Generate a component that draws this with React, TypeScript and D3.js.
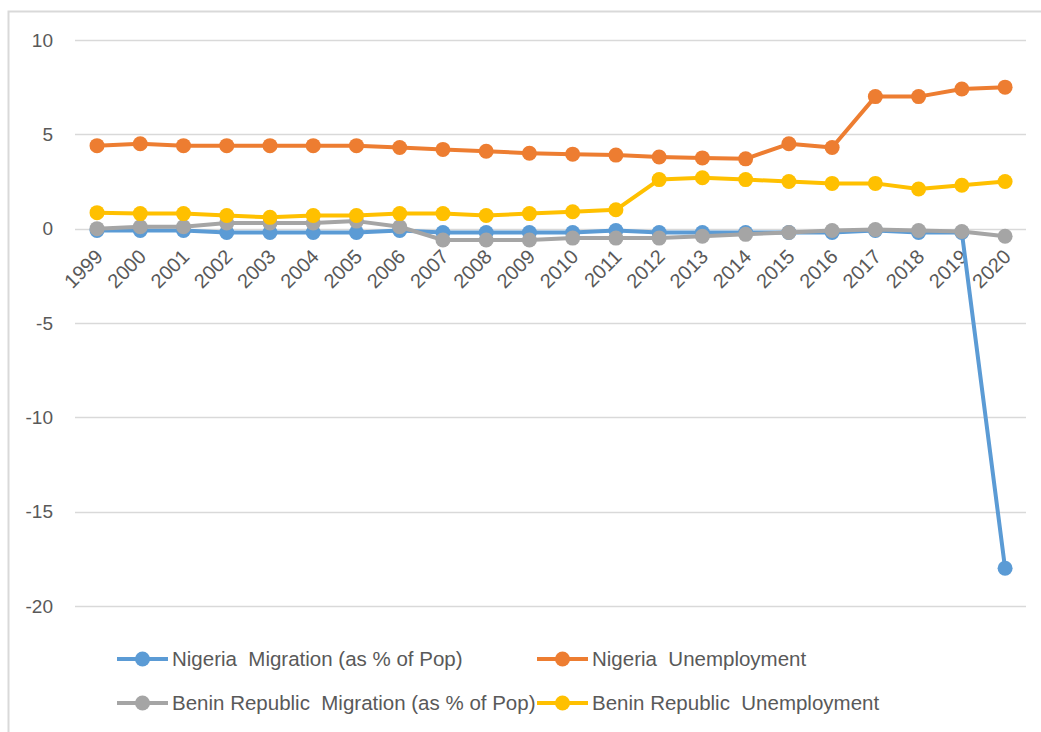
import React, {useEffect, useRef} from 'react';
import * as d3 from 'd3';

const years = [
  '1999', '2000', '2001', '2002', '2003', '2004', '2005', '2006', '2007', '2008', '2009',
  '2010', '2011', '2012', '2013', '2014', '2015', '2016', '2017', '2018', '2019', '2020',
];

const nigeriaMigration = [
  -0.1, -0.1, -0.1, -0.2, -0.2, -0.2, -0.2, -0.1, -0.2, -0.2, -0.2,
  -0.2, -0.1, -0.2, -0.2, -0.2, -0.2, -0.2, -0.1, -0.2, -0.2, -18.0,
];
const nigeriaUnemployment = [
  4.4, 4.5, 4.4, 4.4, 4.4, 4.4, 4.4, 4.3, 4.2, 4.1, 4.0,
  3.95, 3.9, 3.8, 3.75, 3.7, 4.5, 4.3, 7.0, 7.0, 7.4, 7.5,
];
const beninMigration = [
  0.0, 0.1, 0.1, 0.3, 0.3, 0.3, 0.4, 0.1, -0.6, -0.6, -0.6,
  -0.5, -0.5, -0.5, -0.4, -0.3, -0.2, -0.1, -0.05, -0.1, -0.15, -0.4,
];
const beninUnemployment = [
  0.85, 0.8, 0.8, 0.7, 0.6, 0.7, 0.7, 0.8, 0.8, 0.7, 0.8,
  0.9, 1.0, 2.6, 2.7, 2.6, 2.5, 2.4, 2.4, 2.1, 2.3, 2.5,
];

const seriesNames = [
  'Nigeria  Migration (as % of Pop)',
  'Nigeria  Unemployment',
  'Benin Republic  Migration (as % of Pop)',
  'Benin Republic  Unemployment',
];
const seriesValues = [nigeriaMigration, nigeriaUnemployment, beninMigration, beninUnemployment];
const colors = ['#5b9bd5', '#ed7d31', '#a5a5a5', '#ffc000'];
const yTicks = [10, 5, 0, -5, -10, -15, -20];

const W = 1041;
const H = 732;
const FONT = '"Liberation Sans", Arial, sans-serif';

export default function App() {
  const ref = useRef<SVGSVGElement>(null);

  useEffect(() => {
    const svg = d3.select(ref.current);
    svg.selectAll('*').remove();

    svg.append('rect').attr('width', W).attr('height', H).attr('fill', '#fff');

    // chart border (left + top visible)
    svg.append('path')
      .attr('d', `M8.5,${H} L8.5,11.5 L${W},11.5`)
      .attr('fill', 'none')
      .attr('stroke', '#d9d9d9')
      .attr('stroke-width', 2);

    const x = d3.scaleBand().domain(years).range([75.4, 1026.7]);
    const cx = (d: string) => (x(d) as number) + x.bandwidth() / 2;
    const y = d3.scaleLinear().domain([-20, 10]).range([606, 40]);

    // gridlines
    svg.append('g')
      .selectAll('line')
      .data(yTicks)
      .enter()
      .append('line')
      .attr('x1', 75)
      .attr('x2', 1026)
      .attr('y1', d => Math.round(y(d)) + 0.5)
      .attr('y2', d => Math.round(y(d)) + 0.5)
      .attr('stroke', '#d9d9d9')
      .attr('stroke-width', 1.5);

    // y labels
    svg.append('g')
      .selectAll('text')
      .data(yTicks)
      .enter()
      .append('text')
      .attr('x', 53)
      .attr('y', d => y(d))
      .attr('dy', '0.35em')
      .attr('text-anchor', 'end')
      .attr('fill', '#595959')
      .style('font-family', FONT)
      .style('font-size', '19px')
      .text(d => String(d));

    // x labels
    svg.append('g')
      .selectAll('text')
      .data(years)
      .enter()
      .append('text')
      .attr('transform', d => `translate(${cx(d) + 7},${258}) rotate(-45)`)
      .attr('text-anchor', 'end')
      .attr('fill', '#595959')
      .style('font-family', FONT)
      .style('font-size', '20px')
      .text(d => d);

    // series
    const line = d3.line<number>()
      .x((_, i) => cx(years[i]))
      .y(d => y(d));

    seriesValues.forEach((vals, s) => {
      const g = svg.append('g');
      g.append('path')
        .datum(vals)
        .attr('d', line)
        .attr('fill', 'none')
        .attr('stroke', colors[s])
        .attr('stroke-width', 4)
        .attr('stroke-linejoin', 'round');
      g.selectAll('circle')
        .data(vals)
        .enter()
        .append('circle')
        .attr('cx', (_, i) => cx(years[i]))
        .attr('cy', d => y(d))
        .attr('r', 7.5)
        .attr('fill', colors[s]);
    });

    // legend
    const legendPos = [
      [117, 659],
      [537, 659],
      [117, 703],
      [537, 703],
    ];
    seriesNames.forEach((name, s) => {
      const [lx, ly] = legendPos[s];
      const g = svg.append('g').attr('transform', `translate(${lx},${ly})`);
      g.append('line')
        .attr('x1', 0)
        .attr('x2', 51)
        .attr('stroke', colors[s])
        .attr('stroke-width', 4);
      g.append('circle').attr('cx', 25.5).attr('r', 7.5).attr('fill', colors[s]);
      g.append('text')
        .attr('x', 55)
        .attr('dy', '0.35em')
        .attr('fill', '#595959')
        .style('font-family', FONT)
        .style('font-size', '20.5px')
        .style('white-space', 'pre')
        .text(name);
    });
  }, []);

  return (
    <svg
      ref={ref}
      width={W}
      height={H}
      style={{position: 'absolute', left: 0, top: 0}}
    />
  );
}
